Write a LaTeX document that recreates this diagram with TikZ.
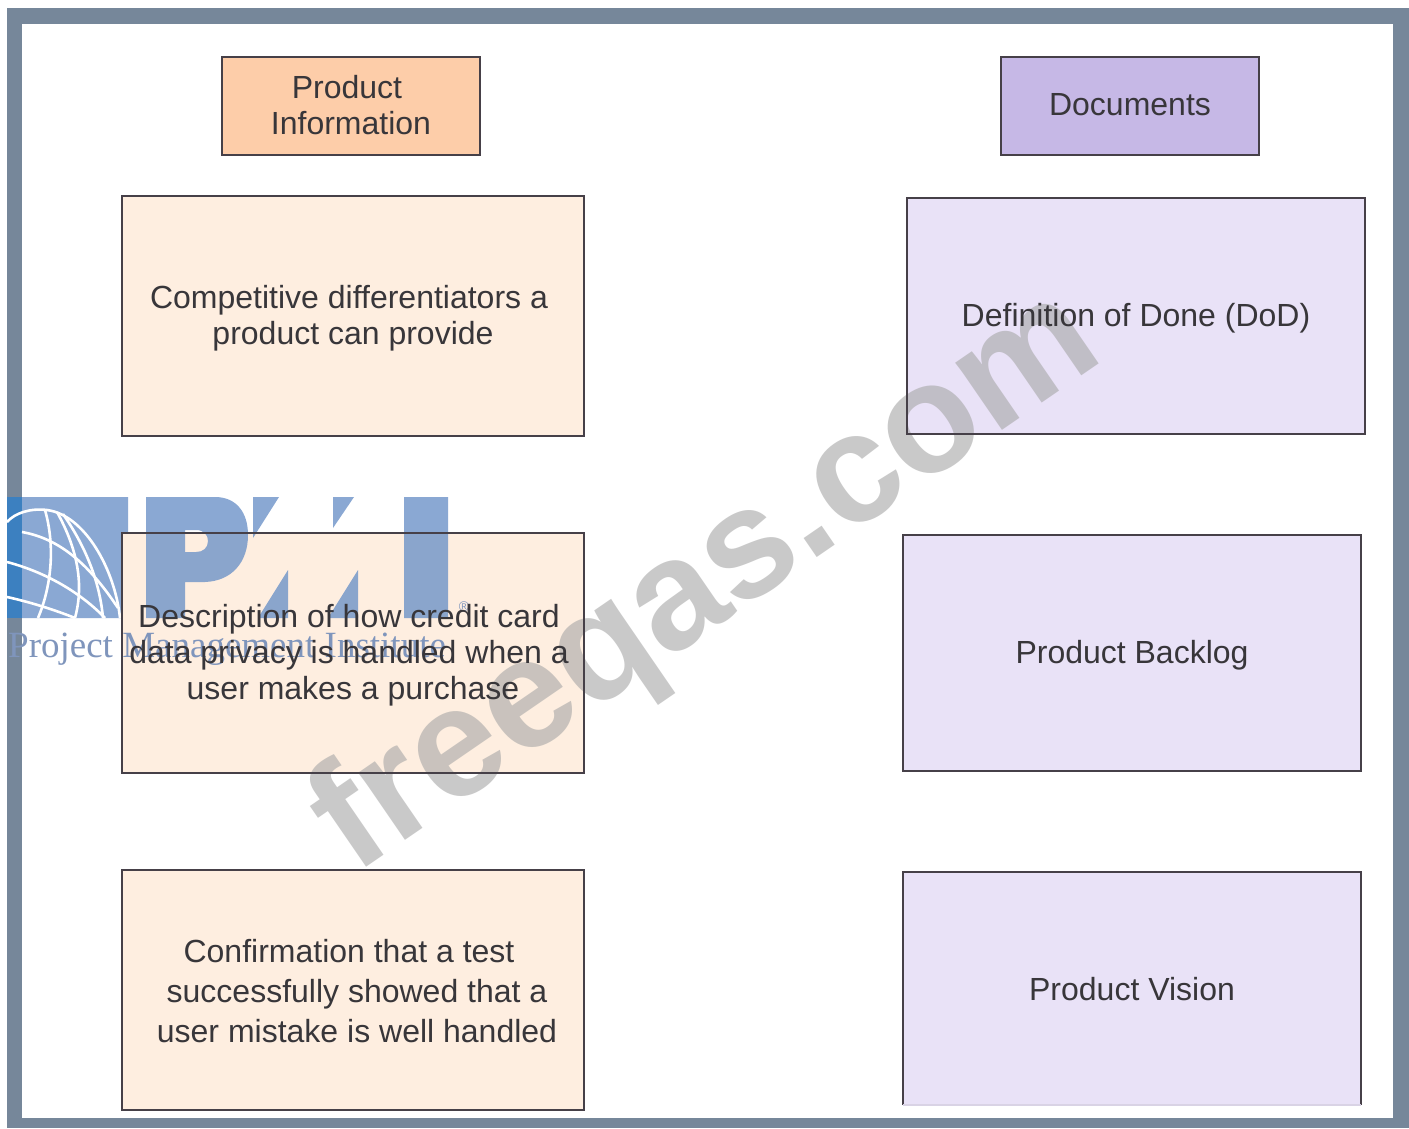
\documentclass[tikz,border=0pt]{standalone}
\usepackage{fontspec}
\setmainfont{Liberation Sans}
\newfontfamily\logofont{Liberation Serif}
\definecolor{framegray}{HTML}{76879A}
\definecolor{hpeach}{HTML}{FDCDA9}
\definecolor{lpeach}{HTML}{FEEEE0}
\definecolor{hpurple}{HTML}{C6B8E6}
\definecolor{lpurple}{HTML}{E9E2F7}
\definecolor{edgecol}{HTML}{464048}
\definecolor{inkcol}{HTML}{38363A}
\definecolor{logoblue}{HTML}{6D93C8}
\definecolor{logoedge}{HTML}{3C80C0}
\definecolor{logotext}{HTML}{7F95BC}
\definecolor{markgray}{HTML}{A6A6A6}
\tikzset{
  x=1pt,y=-1pt,
  panel/.style={draw=none,inner sep=0pt,outer sep=0pt,minimum width=#1},
  panelh/.style={minimum height=#1},
  edgeline/.style={draw=edgecol,line width=2pt},
  label/.style={text=inkcol,align=center,inner sep=0pt,font=\fontsize{32}{36}\selectfont},
  wideleading/.style={font=\fontsize{32}{40}\selectfont},
  globeline/.style={draw=white,line width=2.6pt},
}
\begin{document}
\begin{tikzpicture}
\useasboundingbox (0,0) rectangle (1409,1128);
\fill[white] (0,0) rectangle (1409,1128);
% frame
\fill[framegray] (7,8) rectangle (1409,1128);
\fill[white] (22,24) rectangle (1393,1118);
% box fills
\node[panel=258,panelh=98,fill=hpeach] (h1) at (351,106) {};
\node[panel=258,panelh=98,fill=hpurple] (h2) at (1130,106) {};
\node[panel=462,panelh=240,fill=lpeach] (a1) at (353,316) {};
\node[panel=462,panelh=240,fill=lpeach] (a2) at (353,653) {};
\node[panel=462,panelh=240,fill=lpeach] (a3) at (353,990) {};
\node[panel=458,panelh=236,fill=lpurple] (b1) at (1136,316) {};
\node[panel=458,panelh=236,fill=lpurple] (b2) at (1132,653) {};
\node[panel=458,panelh=233,fill=lpurple] (b3) at (1132,988.5) {};
% logo
\begin{scope}[transparency group,opacity=.8]
\fill[logoblue] (22,497) -- (128,497) -- (128,533) -- (122,533) -- (122,618) -- (22,618) -- cycle;
\fill[logoblue,even odd rule] (146,497) -- (215,497) .. controls (236,497) and (248,512) .. (248,535)
   .. controls (248,562) and (232,581) .. (205,582) -- (185,582) -- (185,618) -- (146,618) -- cycle
   (185,530) -- (196,530) .. controls (204,530) and (208,535) .. (208,541) .. controls (208,548) and (203,552) .. (196,552) -- (185,552) -- cycle;
\fill[logoblue] (253,497) -- (279,497) -- (253,538) -- cycle;
\fill[logoblue] (288,570) -- (288,618) -- (258,618) -- cycle;
\fill[logoblue] (333,497) -- (354,497) -- (333,528) -- cycle;
\fill[logoblue] (358,570) -- (358,618) -- (328,618) -- cycle;
\fill[logoblue] (404,497) rectangle (448,618);
\end{scope}
\fill[logoedge] (7,497) rectangle (22,618);
\begin{scope}
\clip (7,497) rectangle (122,618);
\draw[globeline] (7,522) .. controls (15,513) and (30,508) .. (47,510) .. controls (85,515) and (115,570) .. (120,618);
\draw[globeline] (45,510) .. controls (55,545) and (52,585) .. (38,618);
\draw[globeline] (57,512) .. controls (78,550) and (84,585) .. (75,618);
\draw[globeline] (63,514) .. controls (88,550) and (100,585) .. (103,618);
\draw[globeline] (22,532) .. controls (55,538) and (85,558) .. (118,608);
\draw[globeline] (7,562) .. controls (45,572) and (80,592) .. (105,618);
\draw[globeline] (7,597) .. controls (30,602) and (55,610) .. (75,618);
\end{scope}
\node[anchor=base west,inner sep=0pt,text=logotext,font=\logofont\fontsize{37}{37}\selectfont] (logotitle) at (8,657) {Project Management Institute};
\node[anchor=center,inner sep=0pt,text=logotext,font=\fontsize{14}{14}\selectfont] (logoreg) at (464,607) {®};
% watermark
\node[rotate=34.5,inner sep=0pt,text=markgray,opacity=.6,font=\bfseries\fontsize{155}{155}\selectfont] (mark) at (708,584) {freeqas.com};
% outlines
\draw[edgeline] (h1.north west) rectangle (h1.south east);
\draw[edgeline] (h2.north west) rectangle (h2.south east);
\draw[edgeline] (a1.north west) rectangle (a1.south east);
\draw[edgeline] (a2.north west) rectangle (a2.south east);
\draw[edgeline] (a3.north west) rectangle (a3.south east);
\draw[edgeline] (b1.north west) rectangle (b1.south east);
\draw[edgeline] (b2.north west) rectangle (b2.south east);
\draw[edgeline] (b3.south west) -- (b3.north west) -- (b3.north east) -- (b3.south east);
\draw[draw=lpurple!85!gray,line width=1.5pt] (b3.south west) -- (b3.south east);
% labels
\node[label] (th1) at (351,105) {Product\hspace*{8pt}\\Information};
\node[label] (th2) at (1130,105) {Documents};
\node[label] (ta1) at (349,318) {Competitive differentiators a\\\hspace*{8pt}product can provide};
\node[label] (ta2) at (349,655) {Description of how credit card\\data privacy is handled when a\\\hspace*{8pt}user makes a purchase};
\node[label,wideleading] (ta3) at (357,991) {Confirmation that a test\hspace*{16pt}\\successfully showed that a\\user mistake is well handled};
\node[label] (tb1) at (1136,318) {Definition of Done (DoD)};
\node[label] (tb2) at (1132,655) {Product Backlog};
\node[label] (tb3) at (1132,989) {Product Vision};
\end{tikzpicture}
\end{document}
